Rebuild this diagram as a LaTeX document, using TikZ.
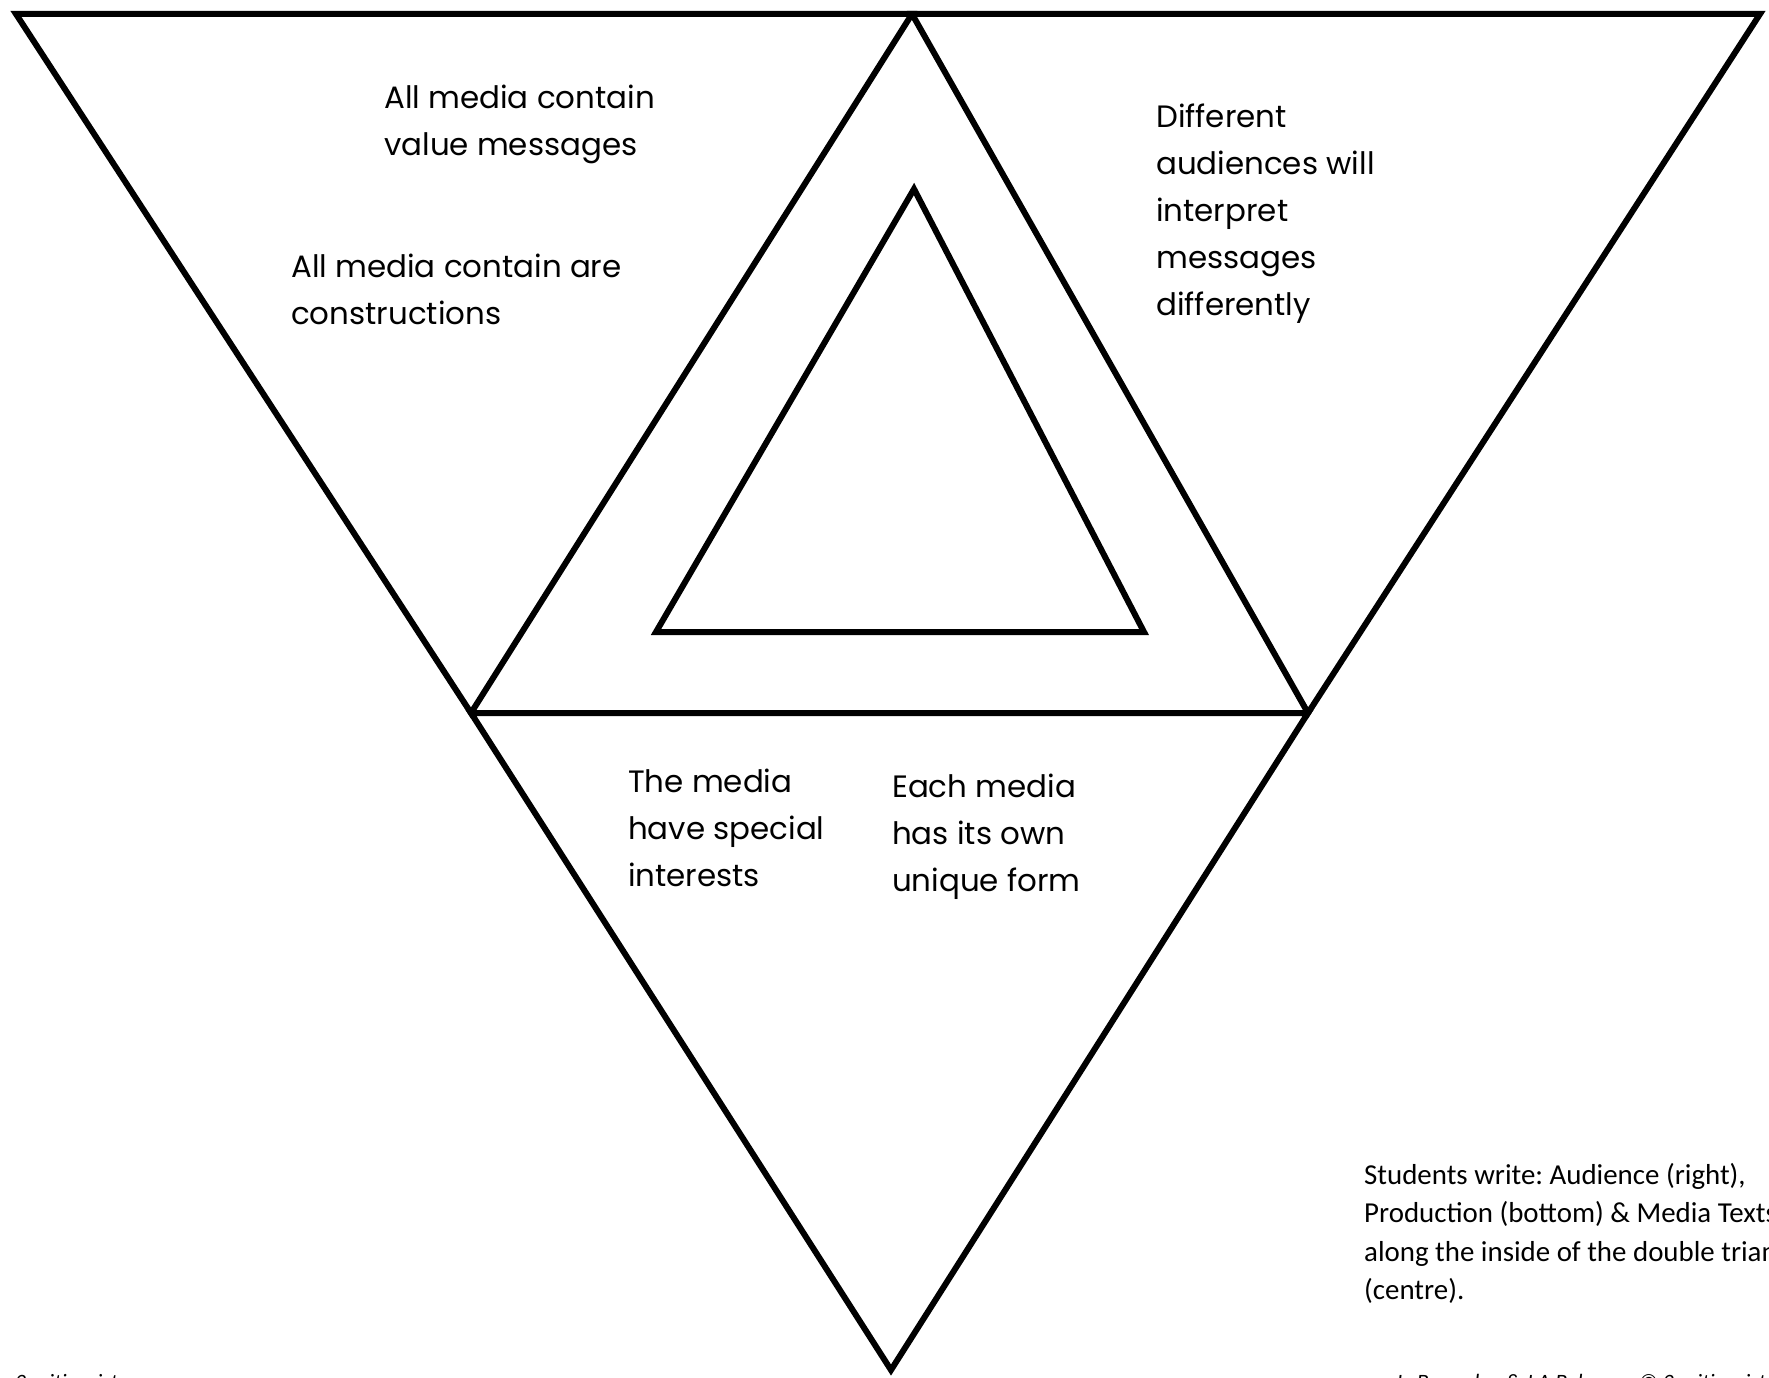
\documentclass[tikz,border=0pt]{standalone}
\usepackage{fontspec}
\setmainfont{Poppins}
\newfontfamily\notefont{Carlito}
\frenchspacing
\begin{document}
\begin{tikzpicture}[x=1bp,y=-1bp,
  edge/.style={line width=6bp,line join=miter},
  label/.style={anchor=north west,inner sep=0pt,align=left,font=\fontsize{31}{47}\selectfont},
  note/.style={anchor=north west,inner sep=0pt,align=left,font=\notefont\fontsize{29}{38.5}\selectfont},
  foot/.style={anchor=base west,inner sep=0pt,font=\notefont\itshape\fontsize{22}{26}\selectfont}]
\useasboundingbox (0,0) rectangle (1769,1378);
% vertices
\coordinate (TL) at (16,14);
\coordinate (TM) at (912,14);
\coordinate (TR) at (1760,14);
\coordinate (ML) at (471,713);
\coordinate (MR) at (1308,713);
\coordinate (B) at (891,1370);
\coordinate (IA) at (914,189);
\coordinate (IL) at (656,632);
\coordinate (IR) at (1144,632);
% triangles
\draw[edge] (TL) -- (TM) -- (ML) -- cycle;
\draw[edge] (TM) -- (TR) -- (MR) -- cycle;
\draw[edge] (ML) -- (MR) -- (B) -- cycle;
\draw[edge] (IA) -- (IR) -- (IL) -- cycle;
% labels
\node[label] (values) at (384,85) {All media contain\\value messages};
\node[label] (constr) at (291,254) {All media contain are\\constructions};
\node[label] (aud) at (1156,104) {Different\\audiences will\\interpret\\messages\\differently};
\node[label] (interest) at (628,769) {The media\\have special\\interests};
\node[label] (form) at (892,774) {Each media\\has its own\\unique form};
\node[note] (students) at (1364,1163) {Students write: Audience (right),\\Production (bottom) \& Media Texts\\along the inside of the double triangle\\(centre).};
\node[foot] (footl) at (-37,1389) {www.3writingsisters.com};
\node[foot] (footr) at (1397,1389) {L. Brownlee \& J.A Belanger © 3writingsisters.com};
\end{tikzpicture}
\end{document}
